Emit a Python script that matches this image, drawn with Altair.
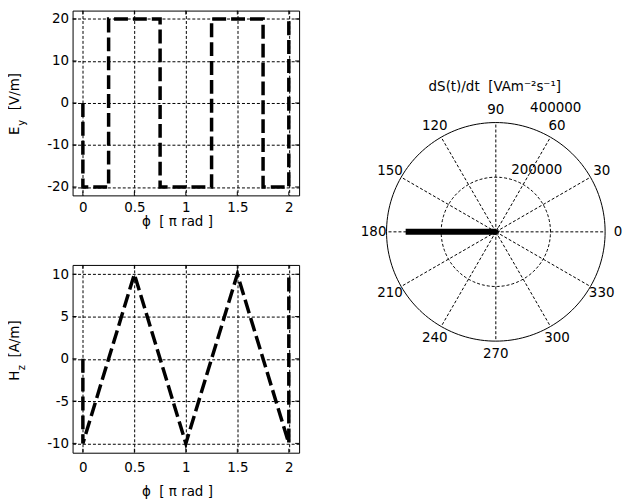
import altair as alt
import pandas as pd

# ---------------- data ----------------
phi_E = [0, 0, 0.25, 0.25, 0.75, 0.75, 1.25, 1.25, 1.75, 1.75, 2, 2]
Ey = [0, -20, -20, 20, 20, -20, -20, 20, 20, -20, -20, 20]
phi_H = [0, 0, 0.5, 1, 1.5, 2, 2]
Hz = [0, -10, 10, -10, 10, -10, 10]
x_ticks = [0, 0.5, 1, 1.5, 2]
Ey_ticks = [-20, -10, 0, 10, 20]
Hz_ticks = [-10, -5, 0, 5, 10]

ring_values = [200000, 400000]
spoke_angles = [0, 30, 60, 90, 120, 150, 180, 210, 240, 270, 300, 330]
angle_labels = ["0", "30", "60", "90", "120", "150", "180", "210", "240", "270", "300", "330"]
radial_labels = ["200000", "400000"]
ds_angles = [180]
ds_values = [330000]
star_angles = [10, 40, 65, 100, 140, 200, 235, 260, 290, 320, 350]
star_values = [15000, 12000, 16000, 10000, 14000, 12000, 15000, 11000, 14000, 13000, 12000]

FONT = "DejaVu Sans"
FS = 13.5
NB = "\u00a0"
W_L = 228
TL = 4  # inward tick length


def panel(phis, vals, ydom, yticks, title_parts, h, lpad, ty):
    df = pd.DataFrame({"phi": phis, "v": vals, "i": list(range(len(phis)))})
    xsc = alt.Scale(domain=[-0.1, 2.1], nice=False, zero=False)
    ysc = alt.Scale(domain=ydom, nice=False, zero=False)
    line = alt.Chart(df).mark_line(
        color="black", strokeWidth=3.5, strokeDash=[14, 5], strokeCap="butt"
    ).encode(
        x=alt.X("phi:Q", scale=xsc,
                axis=alt.Axis(values=x_ticks, labelExpr="toString(datum.value)",
                              title="ϕ" + NB + NB + "[" + NB + "π rad" + NB + "]",
                              titleX=105, titleY=ty, titleBaseline="middle", labelPadding=lpad)),
        y=alt.Y("v:Q", scale=ysc,
                axis=alt.Axis(values=yticks, labelExpr="toString(datum.value)", title=None)),
        order="i:Q",
    )
    xt = pd.DataFrame({"t": x_ticks})
    yt = pd.DataFrame({"t": yticks})
    ticks = [
        alt.Chart(xt).mark_rule(color="black", strokeWidth=1).encode(
            x=alt.X("t:Q", scale=xsc), y=alt.value(0), y2=alt.value(TL)),
        alt.Chart(xt).mark_rule(color="black", strokeWidth=1).encode(
            x=alt.X("t:Q", scale=xsc), y=alt.value(h), y2=alt.value(h - TL)),
        alt.Chart(yt).mark_rule(color="black", strokeWidth=1).encode(
            y=alt.Y("t:Q", scale=ysc), x=alt.value(0), x2=alt.value(TL)),
        alt.Chart(yt).mark_rule(color="black", strokeWidth=1).encode(
            y=alt.Y("t:Q", scale=ysc), x=alt.value(W_L), x2=alt.value(W_L - TL)),
    ]
    layers = [line] + ticks
    one = pd.DataFrame({"a": [0]})
    for txt, xo, yo, fs in title_parts:
        layers.append(
            alt.Chart(one).mark_text(text=txt, angle=270, font=FONT, fontSize=fs,
                                     baseline="middle", align="center", color="black")
            .encode(x=alt.value(xo), y=alt.value(h / 2 + yo))
        )
    return alt.layer(*layers).properties(
        width=W_L, height=h, view=alt.ViewBackground(stroke="black", strokeWidth=1)
    )


top = panel(phi_E, Ey, [-22, 22], Ey_ticks,
            [("E", -57.5, 28, FS), ("y", -51, 20, 10), ("[V/m]", -57.5, -11.5, FS)],
            186, 5, 26)
bottom = panel(phi_H, Hz, [-11.1, 11.1], Hz_ticks,
               [("H", -57.5, 17, FS), ("z", -51, 9, 10), ("[A/m]", -57.5, -20, FS)],
               189, 8, 39)

left = alt.vconcat(top, bottom, spacing=36)

# ---------------- polar ----------------
PX = 110.0                 # pixels for the outer ring
UNIT = 400000 / PX         # data units per pixel
PW, PH = 262, 445
xdom = [-137 * UNIT, 125 * UNIT]
ydom = [-222.3 * UNIT, 222.7 * UNIT]
xs = alt.Scale(domain=xdom, nice=False, zero=False)
ys = alt.Scale(domain=ydom, nice=False, zero=False)

rings = pd.DataFrame([{"r": r, "deg": d} for r in ring_values for d in range(0, 361, 2)])
ring_base = alt.Chart(rings).transform_calculate(
    px="datum.r * cos(datum.deg * PI / 180)", py="datum.r * sin(datum.deg * PI / 180)"
)
outer = ring_base.transform_filter("datum.r == 400000").mark_line(
    color="black", strokeWidth=1).encode(
    x=alt.X("px:Q", scale=xs, axis=None), y=alt.Y("py:Q", scale=ys, axis=None), order="deg:Q")
inner = ring_base.transform_filter("datum.r == 200000").mark_line(
    color="black", strokeWidth=1, strokeDash=[3, 2]).encode(
    x=alt.X("px:Q", scale=xs, axis=None), y=alt.Y("py:Q", scale=ys, axis=None), order="deg:Q")

spokes = alt.Chart(pd.DataFrame({"a": spoke_angles, "r": [400000] * len(spoke_angles)})).transform_calculate(
    x0="0", y0="0",
    x1="datum.r * cos(datum.a * PI / 180)", y1="datum.r * sin(datum.a * PI / 180)"
).mark_rule(color="black", strokeWidth=1, strokeDash=[3, 2]).encode(
    x=alt.X("x0:Q", scale=xs, axis=None), y=alt.Y("y0:Q", scale=ys, axis=None),
    x2="x1:Q", y2="y1:Q")


def radial(angles, values, width):
    return alt.Chart(pd.DataFrame({"a": angles, "r": values})).transform_calculate(
        x0="0", y0="0",
        x1="datum.r * cos(datum.a * PI / 180)", y1="datum.r * sin(datum.a * PI / 180)"
    ).mark_rule(color="black", strokeWidth=width, strokeCap="butt").encode(
        x=alt.X("x0:Q", scale=xs, axis=None), y=alt.Y("y0:Q", scale=ys, axis=None),
        x2="x1:Q", y2="y1:Q")


ds_line = radial(ds_angles, ds_values, 6)
star = radial(star_angles, star_values, 1)

RL = 123 * UNIT
alabels = alt.Chart(pd.DataFrame({"a": spoke_angles, "t": angle_labels})).transform_calculate(
    px=f"{RL} * cos(datum.a * PI / 180)", py=f"{RL} * sin(datum.a * PI / 180)"
).mark_text(font=FONT, fontSize=FS, color="black", align="center", baseline="middle").encode(
    x=alt.X("px:Q", scale=xs, axis=None), y=alt.Y("py:Q", scale=ys, axis=None), text="t:N")

rlabels = alt.Chart(pd.DataFrame({
    "t": radial_labels,
    "px": [15.5 * UNIT, 34.5 * UNIT],
    "py": [55.7 * UNIT, 117.7 * UNIT],
})).mark_text(font=FONT, fontSize=FS, color="black", align="left", baseline="bottom").encode(
    x=alt.X("px:Q", scale=xs, axis=None), y=alt.Y("py:Q", scale=ys, axis=None), text="t:N")

ptitle = alt.Chart(pd.DataFrame({"t": ["dS(t)/dt" + NB + NB + "[VAm⁻²s⁻¹]"],
                                 "px": [-1 * UNIT], "py": [146 * UNIT]})).mark_text(
    font=FONT, fontSize=FS, color="black", align="center", baseline="middle").encode(
    x=alt.X("px:Q", scale=xs, axis=None), y=alt.Y("py:Q", scale=ys, axis=None), text="t:N")

polar = alt.layer(inner, spokes, outer, star, ds_line, alabels, rlabels, ptitle).properties(
    width=PW, height=PH)

chart = alt.hconcat(left, polar, spacing=60).properties(
    padding={"left": 0, "top": 0, "right": 0, "bottom": 0}
).configure_view(stroke=None).configure_axis(
    labelFont=FONT, labelFontSize=FS, labelColor="black",
    titleFont=FONT, titleFontSize=FS, titleFontWeight="normal", titleColor="black",
    grid=True, gridColor="black", gridDash=[3, 2], gridWidth=1, gridOpacity=1,
    domain=False, ticks=False, tickSize=0, labelPadding=4,
)

chart.save("out.html", embed_options={"renderer": "svg", "actions": False})
